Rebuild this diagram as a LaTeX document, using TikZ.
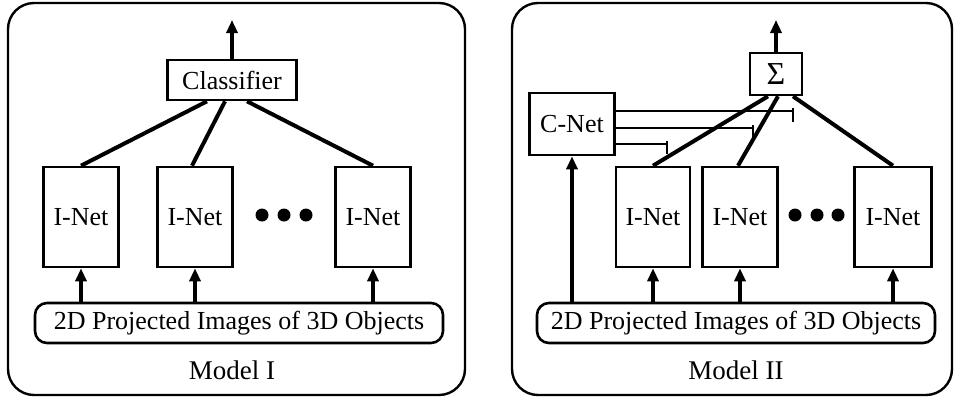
\documentclass[tikz,border=0pt]{standalone}
\usepackage{fontspec}
\setmainfont{Liberation Serif}
\usepackage{tikz}
\usetikzlibrary{arrows.meta}

\tikzset{
	netbox/.style={draw, line width=2.6pt, minimum width=75pt, minimum height=100pt, inner sep=0pt, font=\fontsize{26}{28}\selectfont},
	inbox/.style={draw, line width=2.6pt, rounded corners=12pt, minimum width=400pt, minimum height=40pt, inner sep=0pt, font=\fontsize{26}{28}\selectfont},
	panel/.style={draw, line width=2.4pt, rounded corners=26pt},
	feed/.style={line width=3.2pt, -{Triangle[length=13pt, width=11pt]}},
	link/.style={line width=4pt},
	gate/.style={line width=2.6pt}
}

\begin{document}
\begin{tikzpicture}[x=1pt, y=-1pt]
	\useasboundingbox (0,0) rectangle (955,400);
	% Model I
	\draw [panel](8,3) rectangle (465,395);
	\node [draw, line width=2.6pt, minimum width=129pt, minimum height=40pt, inner sep=0pt, font=\fontsize{26}{28}\selectfont] (cls) at (232,80) {Classifier};
	\node [netbox] (a1) at (81,217) {I-Net};
	\node [netbox] (a2) at (195,217) {I-Net};
	\node [netbox] (a3) at (373,217) {I-Net};
	\node [inbox, minimum width=408pt] (ain) at (239,323) {2D Projected Images of 3D Objects};
	\node [font=\fontsize{27}{29}\selectfont] (alab) at (232,370) {Model I};
	\coordinate (aout) at (232,20);
	% puntos:
	\fill (262,215) circle (6.5pt);
	\fill (284,215) circle (6.5pt);
	\fill (306,215) circle (6.5pt);
	% flechas
	\draw [feed](ain.north -| a1) -- (a1.south);
	\draw [feed](ain.north -| a2) -- (a2.south);
	\draw [feed](ain.north -| a3) -- (a3.south);
	\draw [feed](cls.north) -- (aout);
	\draw [link](a1.north) -- ([xshift=-25pt]cls.south);
	\draw [link]([xshift=-3pt]a2.north) -- ([xshift=-7pt]cls.south);
	\draw [link](a3.north) -- ([xshift=15pt]cls.south);

	% Model II
	\draw [panel](512,3) rectangle (952,395);
	\node [draw, line width=2.6pt, minimum width=52pt, minimum height=42pt, inner sep=0pt, font=\fontsize{32}{34}\selectfont] (sum) at (776,74) {Σ};
	\node [draw, line width=2.6pt, minimum width=85pt, minimum height=62pt, inner sep=0pt, font=\fontsize{26}{28}\selectfont] (cnet) at (572,124) {C-Net};
	\node [netbox, minimum width=74pt] (b1) at (653,217) {I-Net};
	\node [netbox] (b2) at (740,217) {I-Net};
	\node [netbox, minimum width=77pt] (b3) at (893,217) {I-Net};
	\node [inbox, minimum width=398pt] (bin) at (736,323) {2D Projected Images of 3D Objects};
	\node [font=\fontsize{27}{29}\selectfont] (blab) at (736,370) {Model II};
	\coordinate (bout) at (776,20);
	% puntos:
	\fill (795,215) circle (6.5pt);
	\fill (817,215) circle (6.5pt);
	\fill (838,215) circle (6.5pt);
	% flechas
	\draw [feed](bin.north -| cnet) -- (cnet.south);
	\draw [feed](bin.north -| b1) -- (b1.south);
	\draw [feed](bin.north -| b2) -- (b2.south);
	\draw [feed](bin.north -| b3) -- (b3.south);
	\draw [feed](sum.north) -- (bout);
	\draw [link](b1.north) -- ([xshift=-8pt]sum.south);
	\draw [link]([xshift=-2pt]b2.north) -- ([xshift=2pt]sum.south);
	\draw [link](b3.north) -- ([xshift=17pt]sum.south);
	% compuertas
	\coordinate (g1) at (793,111);
	\coordinate (g2) at (753,128);
	\coordinate (g3) at (667,144);
	\draw [gate](cnet.east |- g1) -- (g1);
	\draw [gate](cnet.east |- g2) -- (g2);
	\draw [gate](cnet.east |- g3) -- (g3);
	\draw [gate]([yshift=3pt]g1) -- ([yshift=-11pt]g1);
	\draw [gate]([yshift=3pt]g2) -- ([yshift=-10pt]g2);
	\draw [gate]([yshift=3pt]g3) -- ([yshift=-10pt]g3);
\end{tikzpicture}
\end{document}
